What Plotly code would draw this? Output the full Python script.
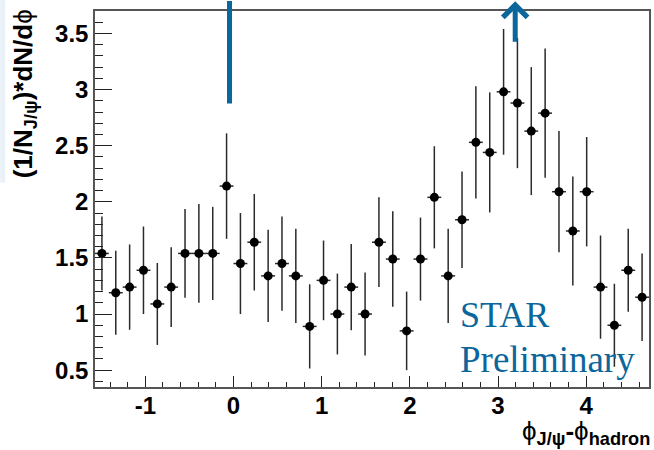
import numpy as np
import plotly.graph_objects as go

# Azimuthal correlation: 40 uniform bins over [-pi/2, 3pi/2]
N_BINS = 40
phi_lo, phi_hi = -np.pi / 2, 3 * np.pi / 2
bin_edges = np.linspace(phi_lo, phi_hi, N_BINS + 1)
bin_centers = 0.5 * (bin_edges[:-1] + bin_edges[1:])
half_width = 0.5 * (bin_edges[1] - bin_edges[0])

yield_per_trigger = [
    1.54, 1.19, 1.24, 1.39, 1.09, 1.24, 1.54, 1.54, 1.54, 2.14,
    1.45, 1.64, 1.34, 1.45, 1.34, 0.89, 1.30, 1.00, 1.24, 1.00,
    1.64, 1.49, 0.85, 1.49, 2.04, 1.34, 1.84, 2.53, 2.44, 2.98,
    2.88, 2.63, 2.79, 2.09, 1.74, 2.09, 1.24, 0.90, 1.39, 1.15,
]
stat_error = [
    0.33, 0.375, 0.38, 0.39, 0.365, 0.355, 0.395, 0.44, 0.415, 0.47,
    0.45, 0.43, 0.41, 0.42, 0.42, 0.375, 0.355, 0.36, 0.385, 0.37,
    0.40, 0.425, 0.35, 0.37, 0.455, 0.42, 0.43, 0.50, 0.535, 0.56,
    0.58, 0.57, 0.575, 0.54, 0.485, 0.487, 0.46, 0.37, 0.37, 0.39,
]

x_tick_vals = [-1, 0, 1, 2, 3, 4]
x_tick_text = ["-1", "0", "1", "2", "3", "4"]
y_tick_vals = [0.5, 1, 1.5, 2, 2.5, 3, 3.5]
y_tick_text = ["0.5", "1", "1.5", "2", "2.5", "3", "3.5"]

# near-side and away-side markers
near_side_phi = -0.045
away_side_phi = 3.195

BLUE = "#0b669b"
tick_font = dict(family="Liberation Sans, Arial", size=24, color="black", weight="bold")

fig = go.Figure()
fig.add_trace(go.Scatter(
    x=bin_centers,
    y=yield_per_trigger,
    mode="markers",
    marker=dict(color="black", size=9),
    error_y=dict(type="data", array=stat_error, visible=True,
                 color="#2a2a2a", thickness=1.5, width=0),
    error_x=dict(type="constant", value=half_width, visible=True,
                 color="#2a2a2a", thickness=1.5, width=0),
    showlegend=False,
))

fig.update_xaxes(
    range=[phi_lo, phi_hi],
    tickmode="array", tickvals=x_tick_vals, ticktext=x_tick_text,
    ticks="inside", ticklen=11, tickwidth=1.3, tickcolor="#222",
    minor=dict(dtick=0.2, tick0=0, ticks="inside", ticklen=5.5,
               tickwidth=1.3, tickcolor="#222", showgrid=False),
    showline=True, linecolor="#555", linewidth=1.5, mirror=True,
    showgrid=False, zeroline=False,
    tickfont=tick_font, ticklabelstandoff=-4,
)
fig.update_yaxes(
    range=[0.35, 3.7],
    tickmode="array", tickvals=y_tick_vals, ticktext=y_tick_text,
    ticks="inside", ticklen=17, tickwidth=1.3, tickcolor="#222",
    minor=dict(dtick=0.1, tick0=0, ticks="inside", ticklen=8,
               tickwidth=1.3, tickcolor="#222", showgrid=False),
    showline=True, linecolor="#555", linewidth=1.5, mirror=True,
    showgrid=False, zeroline=False,
    tickfont=tick_font,
)

annotations = [
    # y-axis title, top-aligned along the axis
    dict(text="<b>(1/N<sub>J/ψ</sub>)*dN/d</b>ϕ", textangle=-90,
         xref="paper", yref="paper", x=-0.127, y=0.78,
         xanchor="center", yanchor="middle", showarrow=False,
         font=dict(family="Liberation Sans, Arial", size=26, color="black")),
    # x-axis title at the right end
    dict(text="ϕ<sub><b>J/ψ</b></sub><b>-</b>ϕ<sub><b>hadron</b></sub>",
         xref="paper", yref="paper", x=1.006, y=-0.17,
         xanchor="right", yanchor="bottom", showarrow=False,
         font=dict(family="Liberation Sans, Arial", size=26, color="black")),
    dict(text="STAR", xref="paper", yref="paper", x=0.655, y=0.192,
         xanchor="left", yanchor="middle", showarrow=False,
         font=dict(family="Liberation Serif, Times New Roman", size=36, color=BLUE)),
    dict(text="Preliminary", xref="paper", yref="paper", x=0.655, y=0.072,
         xanchor="left", yanchor="middle", showarrow=False,
         font=dict(family="Liberation Serif, Times New Roman", size=37, color=BLUE)),
    # near-side line
    dict(text="", x=near_side_phi, xref="x", y=1.029, yref="paper",
         showarrow=True, arrowhead=0, arrowwidth=5, arrowcolor=BLUE,
         ax=0, ay=105, standoff=0, startstandoff=0),
    # away-side arrow
    dict(text="", x=away_side_phi, xref="x", y=1.026, yref="paper",
         showarrow=True, arrowhead=4, arrowsize=0.95, arrowwidth=5, arrowcolor=BLUE,
         ax=0, ay=42, standoff=0, startstandoff=0),
]

fig.update_layout(
    width=654, height=450,
    margin=dict(l=95, r=3, t=11, b=63),
    paper_bgcolor="white", plot_bgcolor="white",
    annotations=annotations,
    shapes=[dict(type="rect", xref="paper", yref="paper",
                 x0=-0.171, x1=-0.162, y0=0.543, y1=1.03,
                 fillcolor="#e9f1f9", line=dict(width=0), layer="below")],
)

fig.write_html("out.html")
